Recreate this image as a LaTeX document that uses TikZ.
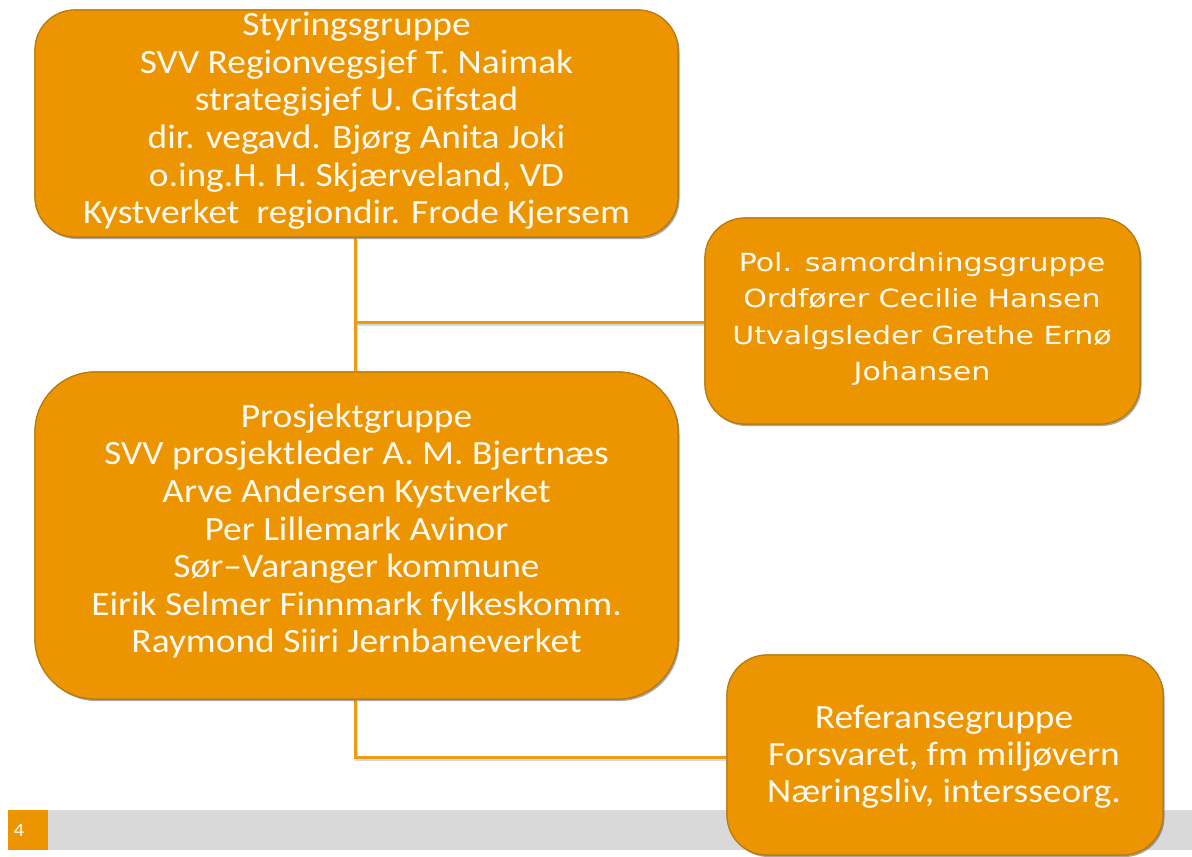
\documentclass[tikz,border=0pt]{standalone}
\usepackage{fontspec}
\setmainfont{Carlito}
\newfontfamily\condfont[FakeStretch=1.10]{Carlito}
\newfontfamily\widefont[FakeStretch=1.20]{DejaVu Sans}
\usetikzlibrary{shadows}
\definecolor{boxfill}{HTML}{EC9500}
\definecolor{boxedge}{HTML}{B97B0C}
\definecolor{linecol}{HTML}{EE9A12}
\definecolor{txtcol}{HTML}{FFF9EE}
\definecolor{barcol}{HTML}{D9D9D9}
\tikzset{
  orgbox/.style={draw=boxedge, line width=1.2pt, fill=boxfill, text=txtcol,
    align=center, inner sep=0pt,
    drop shadow={shadow xshift=1.5pt, shadow yshift=-2pt, opacity=0.35, fill=black!60}},
  conn/.style={draw=linecol, line width=3pt,
    preaction={draw=black!30, line width=3pt, transform canvas={xshift=1pt,yshift=-2pt}, opacity=0.5}},
  boxtext/.style={text=txtcol, align=center},
}
\begin{document}
\begin{tikzpicture}[x=1pt,y=-1pt]
\useasboundingbox (0,0) rectangle (1192,857);
% footer bar
\fill[barcol] (48,810) rectangle (1192,850);
\fill[boxfill] (8,810) rectangle (48,850);
\node[text=white, font=\condfont\fontsize{19}{19}\selectfont] (pgnum) at (19,830) {4};
% junction points
\coordinate (jA) at (355,322);
\coordinate (jB) at (355,757);
% boxes (positions for anchors)
\node[orgbox, rounded corners=40pt, minimum width=643pt, minimum height=227pt] (styr) at (356.5,123.5) {};
\node[orgbox, rounded corners=40pt, minimum width=435pt, minimum height=206pt] (pol) at (922.5,321) {};
\node[orgbox, rounded corners=60pt, minimum width=643pt, minimum height=327pt] (pros) at (356.5,535.5) {};
\node[orgbox, rounded corners=40pt, minimum width=436pt, minimum height=200pt] (ref) at (945,755) {};
% connectors
\draw[conn] (styr.south -| jA) -- (pros.north -| jA);
\draw[conn] (jA) -- (pol.west |- jA);
\draw[conn] (pros.south -| jB) -- (jB) -- (ref.west |- jB);
% redraw boxes on top of connectors
\node[orgbox, rounded corners=40pt, minimum width=643pt, minimum height=227pt] (styrtop) at (styr) {};
\node[orgbox, rounded corners=40pt, minimum width=435pt, minimum height=206pt] (poltop) at (pol) {};
\node[orgbox, rounded corners=60pt, minimum width=643pt, minimum height=327pt] (prostop) at (pros) {};
\node[orgbox, rounded corners=40pt, minimum width=436pt, minimum height=200pt] (reftop) at (ref) {};
% texts
\node[boxtext, font=\condfont\fontsize{34}{37.6}\selectfont] (styrtxt) at (356.5,121)
{Styringsgruppe\\SVV Regionvegsjef T. Naimak\\strategisjef U. Gifstad\\dir. vegavd. Bjørg Anita Joki\\o.ing.H. H. Skjærveland, VD\\Kystverket\ \ regiondir. Frode Kjersem};
\node[boxtext, font=\widefont\fontsize{25}{36.5}\selectfont] (poltxt) at (922,319)
{Pol. samordningsgruppe\\Ordfører Cecilie Hansen\\Utvalgsleder Grethe Ernø\\Johansen};
\node[boxtext, font=\condfont\fontsize{34}{37.6}\selectfont] (prostxt) at (356.5,531)
{Prosjektgruppe\\SVV\ prosjektleder A. M. Bjertnæs\\Arve Andersen Kystverket\\Per Lillemark Avinor\\Sør–Varanger kommune\\Eirik Selmer Finnmark fylkeskomm.\\Raymond Siiri Jernbaneverket};
\node[boxtext, font=\condfont\fontsize{34}{37}\selectfont] (reftxt) at (944,757)
{Referansegruppe\\Forsvaret, fm miljøvern\\Næringsliv, intersseorg.};
\end{tikzpicture}
\end{document}
